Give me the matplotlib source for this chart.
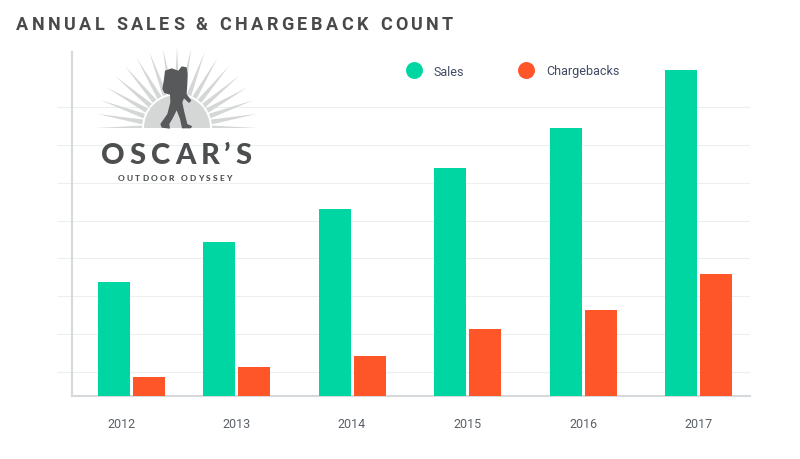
import numpy as np
import matplotlib
import matplotlib.pyplot as plt
from matplotlib.lines import Line2D
from matplotlib.patches import Polygon, Wedge
from matplotlib.text import Text
from matplotlib.transforms import IdentityTransform

matplotlib.use('agg')

# Data (no axis scale shown, so units are arbitrary)
years = ['2012', '2013', '2014', '2015', '2016', '2017']
sales = [114, 154, 187, 228, 268, 326]
chargebacks = [19, 29, 40, 67, 86, 122]
grid_levels = [24, 62, 100, 138, 175, 213, 251, 289]

GREEN = '#00d6a2'
ORANGE = '#ff5629'
W, H = 800, 460


class TrackedText(Text):
    """One text object, drawn with extra room between the letters."""

    def __init__(self, *args, tracking=0, **kwargs):
        super().__init__(*args, **kwargs)
        self.tracking = tracking

    def draw(self, renderer):
        x, y = self.get_transform().transform(self.get_position())
        for ch in self.get_text():
            t = Text(x, y, ch, transform=IdentityTransform(), color=self.get_color(),
                     fontproperties=self.get_fontproperties(), va='baseline', ha='left')
            t.set_figure(self.get_figure())
            t.draw(renderer)
            if ch == ' ':
                w = renderer.get_text_width_height_descent('n', self.get_fontproperties(), False)[0] * 0.5
            else:
                w = renderer.get_text_width_height_descent(ch, self.get_fontproperties(), False)[0]
            x += w + self.tracking


fig = plt.figure(figsize=(W / 100, H / 100), dpi=100)
plt.rcParams['font.family'] = ['Roboto', 'DejaVu Sans']

# main axes, pixel box 72..750 wide, baseline at y=397
ax = fig.add_axes([72 / W, 1 - 397 / H, 678 / W, 344 / H])
ax.set_ylim(0, 344)
step = 115.5
ax.set_xlim((72 - 121) / step, (750 - 121) / step)

x = np.arange(len(years), dtype=float)
# the first group sits a bit closer to the second one in the original
bar_x = x.copy()
bar_x[0] += 10.5 / step
bar_w = 32 / step
gap = 35 / step
ax.bar(bar_x - gap / 2, sales, bar_w, color=GREEN, zorder=3)
ax.bar(bar_x + gap / 2, chargebacks, bar_w, color=ORANGE, zorder=3)

ax.set_xticks(x)
ax.set_xticklabels(years, fontsize=9, color='#5a6068')
ax.tick_params(axis='x', length=0, pad=15)
ax.set_yticks(grid_levels)
ax.set_yticklabels([])
ax.tick_params(axis='y', length=11, width=0.8, color='#eceeef')
ax.grid(axis='y', color='#eceeef', linewidth=0.8, zorder=0)

for side in ['top', 'right']:
    ax.spines[side].set_visible(False)
for side in ['left', 'bottom']:
    ax.spines[side].set_color('#d6d9dc')
    ax.spines[side].set_linewidth(1.5)

handles = [
    Line2D([], [], ls='', marker='o', ms=12.2, mec='none', color=GREEN, label='Sales'),
    Line2D([], [], ls='', marker='o', ms=12.2, mec='none', color=ORANGE, label='Chargebacks'),
]
fig.legend(handles=handles, ncol=2, frameon=False, fontsize=9, labelcolor='#3f4a63',
           loc='center left', bbox_to_anchor=(405 / W, 1 - 72 / H), borderpad=0, borderaxespad=0,
           handlelength=1.4, handletextpad=0.92, columnspacing=4.2)

fig.add_artist(TrackedText(16 / W, 1 - 30 / H, 'ANNUAL SALES & CHARGEBACK COUNT', tracking=3.45,
                           transform=fig.transFigure, fontsize=13, fontweight='bold',
                           color='#48494b', family='Roboto'))

# logo, drawn on a pixel overlay
logo = fig.add_axes([0, 0, 1, 1], facecolor='none')
logo.set_xlim(0, W)
logo.set_ylim(H, 0)
logo.axis('off')

GREY = '#d5d7d7'
DARK = '#58595b'
cx, cy = 177, 129
# y axis is flipped here, so 180..360 is the upper half
logo.add_patch(Wedge((cx, cy), 33, 180, 360, color=GREY, lw=0))
for deg in range(0, 181, 10):
    a = np.radians(deg)
    da = np.radians(4)
    pts = [(cx + 35 * np.cos(a - da), cy - max(35 * np.sin(a - da), 0)),
           (cx + 81 * np.cos(a), cy - 81 * np.sin(a)),
           (cx + 35 * np.cos(a + da), cy - max(35 * np.sin(a + da), 0))]
    logo.add_patch(Polygon(pts, color=GREY, lw=0))

hiker = np.array([(345, 95), (365, 88), (385, 95), (395, 82), (410, 85), (413, 105), (412, 135),
                  (410, 165), (424, 185), (417, 192), (402, 178), (397, 190), (402, 215), (412, 255),
                  (427, 262), (422, 268), (396, 268), (390, 240), (380, 214), (368, 238), (358, 255),
                  (360, 269), (335, 266), (331, 255), (352, 225), (361, 190), (360, 167), (343, 162),
                  (337, 150), (342, 120)], dtype=float)
hiker = hiker / 3 + [50, 40]
logo.add_patch(Polygon(hiker, color=DARK, lw=0))

fig.add_artist(TrackedText(101 / W, 1 - 164 / H, "OSCAR\u2019S", tracking=5, transform=fig.transFigure,
                           fontsize=21, fontweight='black', color='#4d4e50', family='Lato'))
fig.add_artist(TrackedText(118 / W, 1 - 181 / H, 'OUTDOOR ODYSSEY', tracking=2.15, transform=fig.transFigure,
                           fontsize=6, fontweight='black', color='#4d4e50', family='Lato'))

fig.savefig('out.png', dpi=100)
